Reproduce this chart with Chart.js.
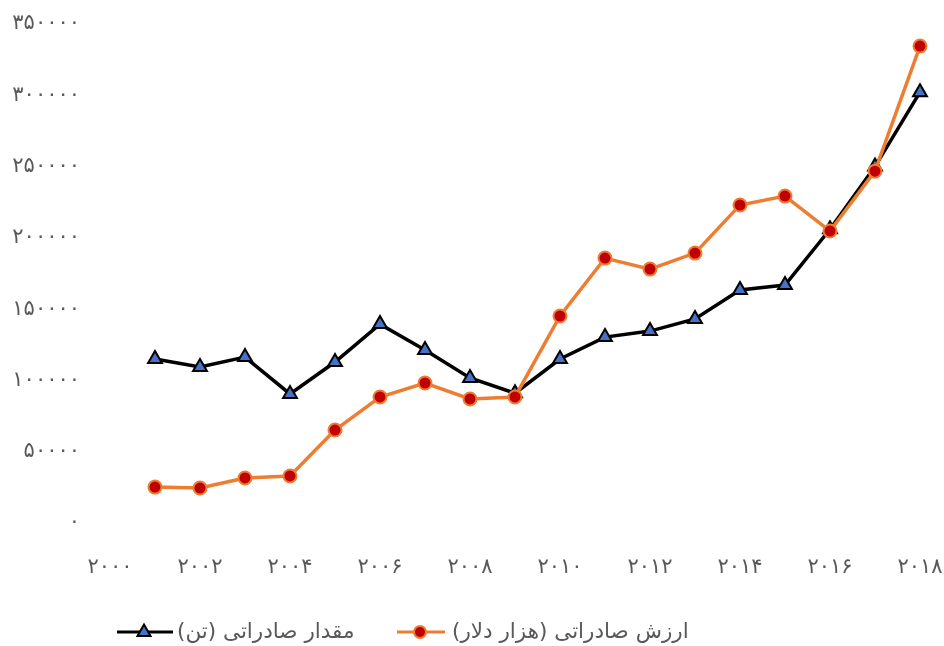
<!DOCTYPE html>
<html>
<head>
<meta charset="utf-8">
<script src="https://cdn.jsdelivr.net/npm/chart.js@4"></script>
<style>
html,body{margin:0;padding:0;background:#fff;}
#wrap{position:relative;width:944px;height:646px;overflow:hidden;}
#c{position:absolute;left:0;top:0;}
.item{position:absolute;top:614px;height:32px;display:flex;align-items:center;}
.txt{font-family:"DejaVu Sans",sans-serif;font-size:21.5px;color:#595959;white-space:nowrap;direction:rtl;}
</style>
</head>
<body>
<div id="wrap">
<canvas id="c" width="944" height="646"></canvas>
<div class="item" id="leg1" style="left:117px;">
  <svg width="58" height="20" viewBox="0 0 58 20"><line x1="0" y1="12" x2="56" y2="12" stroke="#000" stroke-width="3"/><polygon points="27,4.5 33.5,16 20.5,16" fill="#4472C4" stroke="#000" stroke-width="2" stroke-linejoin="miter"/></svg>
  <span class="txt" id="t1" style="margin-left:2px;"></span>
</div>
<div class="item" id="leg2" style="left:397px;">
  <svg width="50" height="20" viewBox="0 0 50 20"><line x1="0" y1="12" x2="48" y2="12" stroke="#ED7D31" stroke-width="3"/><circle cx="23" cy="12" r="6" fill="#C00000" stroke="#ED7D31" stroke-width="2"/></svg>
  <span class="txt" id="t2" style="margin-left:5px;"></span>
</div>
</div>
<script>
const years = [2001,2002,2003,2004,2005,2006,2007,2008,2009,2010,2011,2012,2013,2014,2015,2016,2017,2018];
const quantityTon = [115000,109400,116400,90500,112900,139500,121300,101700,91000,115000,130400,134600,143100,163400,166900,206000,250000,302200];
const valueThousandUSD = [25200,24500,31600,33000,65200,88400,98200,87000,88400,145200,185800,178100,189300,223000,229300,204800,246800,334500];
const xTickValues = [2000,2002,2004,2006,2008,2010,2012,2014,2016,2018];
const yTickValues = [0,50000,100000,150000,200000,250000,300000,350000];
const seriesNames = ['مقدار صادراتی (تن)', 'ارزش صادراتی (هزار دلار)'];

document.getElementById('t1').textContent = seriesNames[0];
document.getElementById('t2').textContent = seriesNames[1];

const faDigits = '۰۱۲۳۴۵۶۷۸۹';
function toFa(v){ return String(v).replace(/[0-9]/g, d => faDigits[+d]); }

const tickFont = {family:'"DejaVu Sans", sans-serif', size:21};

new Chart(document.getElementById('c'), {
  type:'line',
  data:{
    datasets:[
      {
        label: seriesNames[1],
        data: years.map((y,i)=>({x:y, y:valueThousandUSD[i]})),
        borderColor:'#ED7D31', borderWidth:3.5,
        pointStyle:'circle', pointRadius:6.5, pointBorderWidth:2,
        pointBackgroundColor:'#C00000', pointBorderColor:'#ED7D31',
        tension:0, fill:false, clip:false
      },
      {
        label: seriesNames[0],
        data: years.map((y,i)=>({x:y, y:quantityTon[i]})),
        borderColor:'#000000', borderWidth:3.5,
        pointStyle:'triangle', pointRadius:8, pointBorderWidth:2,
        pointBackgroundColor:'#4472C4', pointBorderColor:'#000000',
        tension:0, fill:false, clip:false
      }
    ]
  },
  options:{
    responsive:false, animation:false, devicePixelRatio:1,
    layout:{padding:{left:0, top:24, right:24, bottom:0}},
    plugins:{legend:{display:false}, tooltip:{enabled:false}},
    scales:{
      x:{
        type:'linear', min:2000, max:2018,
        afterBuildTicks: s => { s.ticks = xTickValues.map(v=>({value:v})); },
        afterFit: s => { s.height = 123; s.paddingLeft = 0; s.paddingRight = 0; },
        grid:{display:false, drawTicks:false}, border:{display:false},
        ticks:{color:'#595959', font:tickFont, padding:32, maxRotation:0, autoSkip:false, callback:v=>toFa(v)}
      },
      y:{
        min:0, max:350000,
        afterBuildTicks: s => { s.ticks = yTickValues.map(v=>({value:v})); },
        afterFit: s => { s.width = 110; s.paddingTop = 0; s.paddingBottom = 0; },
        grid:{display:false, drawTicks:false}, border:{display:false},
        ticks:{color:'#595959', font:tickFont, padding:30, callback:v=>toFa(v)}
      }
    }
  }
});
</script>
</body>
</html>
